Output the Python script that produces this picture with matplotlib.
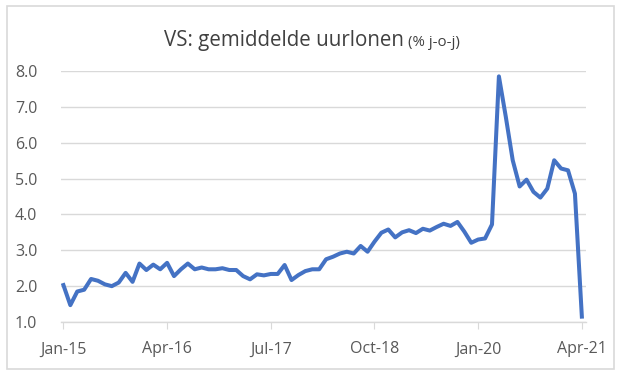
import matplotlib
matplotlib.use("Agg")
import matplotlib.pyplot as plt
from matplotlib.patches import FancyBboxPatch
import numpy as np

values = [
    2.03, 1.47, 1.85, 1.90, 2.20, 2.15, 2.05, 2.00, 2.10, 2.37,
    2.12, 2.63, 2.45, 2.60, 2.47, 2.65, 2.28, 2.47, 2.63, 2.47,
    2.52, 2.47, 2.47, 2.50, 2.45, 2.45, 2.28, 2.19, 2.33, 2.30,
    2.34, 2.34, 2.59, 2.17, 2.31, 2.42, 2.47, 2.47, 2.75, 2.82,
    2.91, 2.96, 2.91, 3.12, 2.96, 3.24, 3.49, 3.58, 3.36, 3.50,
    3.56, 3.48, 3.60, 3.55, 3.65, 3.74, 3.68, 3.79, 3.52, 3.21,
    3.30, 3.33, 3.72, 7.85, 6.72, 5.51, 4.78, 4.97, 4.63, 4.47,
    4.72, 5.51, 5.28, 5.23, 4.58, 1.15,
]
tick_labels = ["Jan-15", "Apr-16", "Jul-17", "Oct-18", "Jan-20", "Apr-21"]
tick_pos = [0, 15, 30, 45, 60, 75]
y_ticks = [1, 2, 3, 4, 5, 6, 7, 8]

plt.rcParams['font.family'] = ['Open Sans', 'DejaVu Sans']

fig = plt.figure(figsize=(6.25, 3.78), dpi=100)
fig.patch.set_facecolor('white')
border = FancyBboxPatch((7/625, 1 - 369/378), (614-7)/625, (369-6)/378,
                        boxstyle="square,pad=0", transform=fig.transFigure,
                        facecolor='none', edgecolor='#d9d9d9', linewidth=1.2)
fig.patches.append(border)

ax = fig.add_axes([61/625, 1 - 322/378, (586-61)/625, (322-71)/378])
x = np.arange(len(values))
ax.plot(x, values, color='#4472c4', linewidth=2.9, solid_joinstyle='round')

ax.set_xlim(-0.35, 75.6)
ax.set_ylim(1, 8)
ax.set_yticks(y_ticks)
ax.set_yticklabels([f"{v:.1f}" for v in y_ticks])
ax.set_xticks(tick_pos)
ax.set_xticklabels(tick_labels)
ax.grid(axis='y', color='#d9d9d9', linewidth=1.0)
ax.set_axisbelow(True)
for s in ['top', 'right', 'left']:
    ax.spines[s].set_visible(False)
ax.spines['bottom'].set_color('#d9d9d9')
ax.spines['bottom'].set_linewidth(1.0)
ax.tick_params(axis='y', length=0, pad=17, labelsize=11.5, labelcolor='#595959')
ax.tick_params(axis='x', length=5, color='#d9d9d9', pad=9, labelsize=11.5, labelcolor='#595959')

t1 = fig.text(0, 0, "VS: gemiddelde uurlonen", fontsize=14.8, color='#404040')
t2 = fig.text(0, 0, "(% j-o-j)", fontsize=10.8, color='#404040')
fig.canvas.draw()
r = fig.canvas.get_renderer()
w1 = t1.get_window_extent(r).width
w2 = t2.get_window_extent(r).width
gap = 5
total = w1 + gap + w2
x0 = (312 - total / 2)
yb = 378 - 46
t1.set_position((x0 / 625, yb / 378))
t2.set_position(((x0 + w1 + gap) / 625, yb / 378))

fig.savefig("out.png", dpi=100, facecolor='white')
